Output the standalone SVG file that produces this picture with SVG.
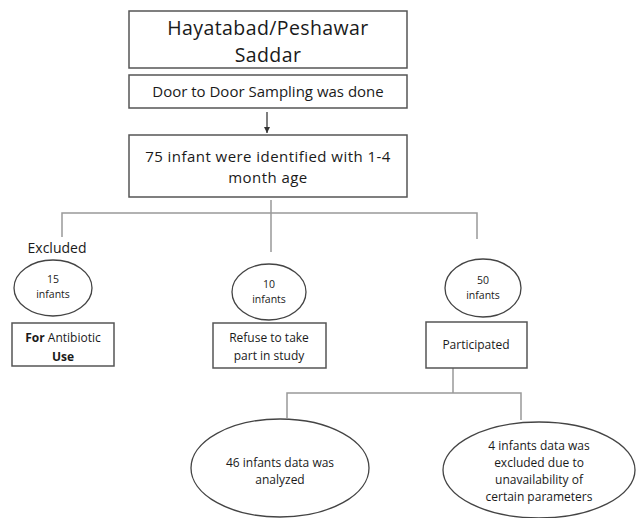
<svg xmlns="http://www.w3.org/2000/svg" width="638" height="518" viewBox="0 0 638 518">
<style>
text{font-family:"Open Sans","Liberation Sans",sans-serif;fill:#1a1a1a;text-anchor:middle}
.box{fill:#fff;stroke:#555;stroke-width:1.5}
.ell{fill:#fff;stroke:#444;stroke-width:1.3}
.con{fill:none;stroke:#999;stroke-width:1.5}
</style>
<defs>
<marker id="ah" markerWidth="8" markerHeight="8" refX="6" refY="4" orient="auto" markerUnits="userSpaceOnUse"><path d="M0,1 L6,4 L0,7 Z" fill="#333"/></marker>
</defs>
<rect width="638" height="518" fill="#fff"/>
<g id="connectors">
<line class="con" x1="267" y1="112" x2="267" y2="133" style="stroke:#555" marker-end="url(#ah)"/>
<line class="con" x1="271" y1="200" x2="271" y2="252"/>
<polyline class="con" points="62,237 62,213 477,213 477,239"/>
<line class="con" x1="453" y1="368" x2="453" y2="393"/>
<polyline class="con" points="287,418 287,393 521,393 521,420"/>
</g>
<g id="n1"><rect class="box" x="129" y="11" width="278" height="57"/>
<text x="268" y="35" font-size="19.5" letter-spacing="0.4">Hayatabad/Peshawar</text>
<text x="268" y="62" font-size="19.5" letter-spacing="0.4">Saddar</text></g>
<g id="n2"><rect class="box" x="129" y="75" width="278" height="33"/>
<text x="268" y="97" font-size="15">Door to Door Sampling was done</text></g>
<g id="n3"><rect class="box" x="129" y="135" width="278" height="62"/>
<text x="268" y="162" font-size="15" letter-spacing="0.45">75 infant were identified with 1-4</text>
<text x="268" y="183" font-size="15" letter-spacing="0.45">month age</text></g>
<g id="excl"><text x="57" y="253" font-size="14">Excluded</text></g>
<g id="e15"><ellipse class="ell" cx="53" cy="288" rx="39" ry="28"/>
<text x="53" y="283" font-size="10.5">15</text>
<text x="53" y="298" font-size="10.5">infants</text></g>
<g id="e10"><ellipse class="ell" cx="269" cy="292" rx="37" ry="28"/>
<text x="269" y="288" font-size="10.5">10</text>
<text x="269" y="303" font-size="10.5">infants</text></g>
<g id="e50"><ellipse class="ell" cx="483" cy="288" rx="38" ry="29"/>
<text x="483" y="284" font-size="10.5">50</text>
<text x="483" y="299" font-size="10.5">infants</text></g>
<g id="b15"><rect class="box" x="12" y="323" width="102" height="43"/>
<text x="63" y="342" font-size="12"><tspan font-weight="bold">For</tspan> Antibiotic</text>
<text x="63" y="361" font-size="12" font-weight="bold">Use</text></g>
<g id="b10"><rect class="box" x="213" y="323" width="113" height="45"/>
<text x="269" y="342" font-size="12">Refuse to take</text>
<text x="269" y="360" font-size="12">part in study</text></g>
<g id="b50"><rect class="box" x="426" y="322" width="101" height="46"/>
<text x="476" y="349" font-size="12">Participated</text></g>
<g id="e46"><ellipse class="ell" cx="280" cy="468" rx="89" ry="49"/>
<text x="280" y="467" font-size="12">46 infants data was</text>
<text x="280" y="484" font-size="12">analyzed</text></g>
<g id="e4"><ellipse class="ell" cx="539" cy="470" rx="96" ry="48"/>
<text x="539" y="450" font-size="12">4 infants data was</text>
<text x="539" y="467" font-size="12">excluded due to</text>
<text x="539" y="484" font-size="12">unavailability of</text>
<text x="539" y="501" font-size="12">certain parameters</text></g>
</svg>
